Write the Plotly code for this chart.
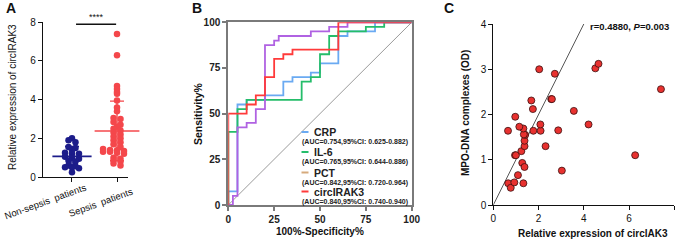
import numpy as np
import plotly.graph_objects as go

# ---------------- Panel A data ----------------
groups = ["Non-sepsis  patients", "Sepsis  patients"]
non_sepsis = [2.0, 1.9, 1.8, 1.55, 1.5, 1.4, 1.25, 1.2, 1.2, 1.05, 1.0, 0.95,
              0.85, 0.8, 0.6, 0.55, 0.5, 0.5, 0.45, 0.25]
sepsis = [7.4, 6.3, 4.7, 4.55, 4.4, 4.3, 3.95, 3.6, 3.4, 3.05, 3.0, 2.85, 2.7,
          2.6, 2.5, 2.4, 2.3, 2.2, 2.1, 2.0, 1.9, 1.8, 1.7, 1.55, 1.45, 1.4,
          1.38, 1.35, 1.35, 1.3, 1.3, 1.25, 1.2, 1.1, 1.0, 0.95, 0.85, 0.8,
          0.7, 0.6]
a_yticks = [0, 2, 4, 6, 8]

# ---------------- Panel B data (ROC) ----------------
crp_fpr = [0, 0, 5, 10, 20, 30, 35, 45, 50, 60, 65, 80, 100]
crp_tpr = [0, 7.5, 55, 57.5, 60, 67.5, 70, 72.5, 77.5, 92.5, 95, 100, 100]
il6_fpr = [0, 0, 5, 10, 40, 45, 50, 55, 60, 75, 85, 100]
il6_tpr = [0, 40, 52.5, 57.5, 67.5, 70, 82.5, 92.5, 95, 97.5, 100, 100]
pct_fpr = [0, 2.5, 5, 10, 15, 20, 25, 27.5, 45, 55, 65, 100]
pct_tpr = [0, 5, 42.5, 45, 52.5, 87.5, 90, 92.5, 95, 97.5, 100, 100]
irak_fpr = [0, 0, 10, 15, 20, 25, 30, 35, 60, 100]
irak_tpr = [0, 50, 55, 60, 70, 80, 82.5, 85, 100, 100]
roc_names = ["CRP", "IL-6", "PCT", "circIRAK3"]
roc_auc = ["(AUC=0.754,95%CI: 0.625-0.882)", "(AUC=0.765,95%CI: 0.644-0.886)",
           "(AUC=0.842,95%CI: 0.720-0.964)", "(AUC=0.840,95%CI: 0.740-0.940)"]
b_ticks = [0, 25, 50, 75, 100]

# ---------------- Panel C data ----------------
c_x = [0.66, 0.77, 0.93, 1.33, 1.09, 1.28, 1.38, 0.96, 1.0, 1.24, 1.38, 1.38,
       1.41, 1.35, 1.33, 1.15, 0.65, 0.97, 1.77, 2.09, 2.08, 2.31, 2.87, 3.03,
       1.75, 1.68, 2.56, 2.59, 2.03, 2.72, 3.56, 4.21, 4.51, 4.65, 6.27, 7.41]
c_y = [0.48, 0.38, 0.50, 0.48, 0.66, 0.93, 0.84, 1.10, 1.10, 1.19, 1.30, 1.42,
       1.55, 1.56, 1.69, 1.73, 1.64, 1.95, 1.64, 1.64, 1.78, 1.30, 1.65, 0.76,
       2.12, 2.31, 2.34, 2.34, 3.00, 2.90, 2.08, 1.78, 3.02, 3.12, 1.10, 2.56]
fit_x = [0, 4]
fit_y = [0, 4]
c_xticks = [0, 2, 4, 6, 8]
c_yticks = [0, 1, 2, 3, 4]

FONT = "Arial, Liberation Sans, sans-serif"
NAVY = "#1c1c8a"
RED_A = "#f4474b"
RED_C = "#e8312f"
C_CRP = "#6aaaf2"
C_IL6 = "#25bd6a"
C_PCT_LEG = "#d6aa7c"
C_PCT = "#b062e2"
C_IRAK = "#ff3a3a"

W, H = 677, 241


def px_x(p):
    return p / W


def px_y(p):
    return 1 - p / H


def swarm(vals, binw=0.2, step=0.155):
    vals = np.asarray(vals, dtype=float)
    offs = np.zeros(len(vals))
    bins = np.round(vals / binw).astype(int)
    for b in np.unique(bins):
        idx = np.where(bins == b)[0]
        n = len(idx)
        offs[idx] = (np.arange(n) - (n - 1) / 2) * step
    return offs


fig = go.Figure()

# ---------------- Panel A ----------------
for gi, (vals, col) in enumerate([(non_sepsis, NAVY), (sepsis, RED_A)]):
    offs = swarm(vals)
    fig.add_trace(go.Scatter(x=gi + offs, y=vals, mode="markers",
                             marker=dict(color=col, size=6.5),
                             xaxis="x", yaxis="y", showlegend=False, cliponaxis=False))
    m = float(np.mean(vals))
    sd = float(np.std(vals, ddof=1))
    fig.add_trace(go.Scatter(x=[gi], y=[m], mode="markers",
                             marker=dict(symbol="line-ew", size=28 if gi == 0 else 32,
                                         line=dict(color=col, width=1.6)),
                             error_y=dict(type="data", array=[sd], arrayminus=[sd],
                                          color=col, thickness=1.4, width=7),
                             xaxis="x", yaxis="y", showlegend=False, cliponaxis=False))

# ---------------- Panel B ----------------
fig.add_trace(go.Scatter(x=[0, 100], y=[0, 100], mode="lines",
                         line=dict(color="#9a9a9a", width=1), xaxis="x2", yaxis="y2",
                         showlegend=False))
for fx, ty, col in [(crp_fpr, crp_tpr, C_CRP), (il6_fpr, il6_tpr, C_IL6),
                    (pct_fpr, pct_tpr, C_PCT), (irak_fpr, irak_tpr, C_IRAK)]:
    fig.add_trace(go.Scatter(x=fx, y=ty, mode="lines", line=dict(color=col, width=1.8, shape="hv"),
                             xaxis="x2", yaxis="y2", showlegend=False, cliponaxis=False))

# ---------------- Panel C ----------------
fig.add_trace(go.Scatter(x=fit_x, y=fit_y, mode="lines", line=dict(color="#555555", width=1),
                         xaxis="x3", yaxis="y3", showlegend=False, cliponaxis=False))
fig.add_trace(go.Scatter(x=c_x, y=c_y, mode="markers",
                         marker=dict(color=RED_C, size=7, line=dict(color="#3a1010", width=0.8)),
                         xaxis="x3", yaxis="y3", showlegend=False, cliponaxis=False))

tickfont = dict(family=FONT, size=10, color="#111")
boldtick = dict(family=FONT, size=10, color="#222", weight="bold")

common = dict(showgrid=False, zeroline=False, automargin=False, ticks="outside")

layout = dict(
    width=W, height=H, margin=dict(l=0, r=0, t=0, b=0, autoexpand=False),
    paper_bgcolor="white", plot_bgcolor="white",
    font=dict(family=FONT, color="#111"),
    # Panel A
    xaxis=dict(domain=[px_x(43), px_x(128)], range=[-0.644, 1.244],
               tickvals=[0, 1], showticklabels=False,
               showline=True, linecolor="#111", linewidth=1.2,
               ticklen=4, tickcolor="#111", anchor="y", **common),
    yaxis=dict(domain=[px_y(177), px_y(22.3)], range=[0, 8], tickvals=a_yticks,
               showline=True, linecolor="#111", linewidth=1.2,
               ticklen=4, tickcolor="#111", tickfont=tickfont, anchor="x", **common),
    # Panel B
    xaxis2=dict(domain=[px_x(228.3), px_x(411.7)], range=[0, 100], tickvals=b_ticks,
                showline=True, mirror=True, linecolor="#7a7a7a", linewidth=2,
                ticklen=4, tickcolor="#7a7a7a", tickwidth=1.5,
                tickfont=boldtick, anchor="y2", **common),
    yaxis2=dict(domain=[px_y(205), px_y(22.3)], range=[0, 100], tickvals=b_ticks,
                showline=True, mirror=True, linecolor="#7a7a7a", linewidth=2,
                ticklen=4, tickcolor="#7a7a7a", tickwidth=1.5,
                tickfont=boldtick, anchor="x2", **common),
    # Panel C
    xaxis3=dict(domain=[px_x(493.3), px_x(674.3)], range=[0, 8], tickvals=c_xticks,
                showline=True, linecolor="#111", linewidth=1.2,
                ticklen=4, tickcolor="#111", tickfont=tickfont, anchor="y3", **common),
    yaxis3=dict(domain=[px_y(205), px_y(24)], range=[0, 4], tickvals=c_yticks,
                showline=True, linecolor="#111", linewidth=1.2,
                ticklen=4, tickcolor="#111", tickfont=tickfont, anchor="x3", **common),
)
fig.update_layout(**layout)

ann = []
shapes = []


def text(x, y, s, size, bold=False, xanchor="center", yanchor="middle", angle=0, color="#111"):
    ann.append(dict(x=x, y=y, xref="paper", yref="paper", text=s, showarrow=False,
                    xanchor=xanchor, yanchor=yanchor, textangle=angle,
                    font=dict(family=FONT, size=size, color=color,
                              weight="bold" if bold else "normal")))


# Panel labels
text(px_x(4), px_y(8), "A", 14, bold=True, xanchor="left")
text(px_x(190), px_y(8), "B", 14, bold=True, xanchor="left")
text(px_x(442), px_y(8), "C", 14, bold=True, xanchor="left")

# Panel A category labels (rotated) and titles
text(px_x(45), px_y(201), groups[0], 9.5, angle=-20)
text(px_x(100), px_y(202), groups[1], 9.5, angle=-20)
text(px_x(12), px_y(97), "Relative expression of circIRAK3", 10, angle=-90)
text(px_x(96), px_y(17.5), "****", 9)
shapes.append(dict(type="line", xref="x", yref="y", x0=0.09, x1=0.98, y0=7.9, y1=7.9,
                   line=dict(color="#111", width=1.4)))

# Panel B titles
text(px_x(198), px_y(113), "Sensitivity%", 10.5, bold=True, angle=-90)
text(px_x(320), px_y(231), "100%-Specificity%", 10, bold=True)

# Panel B legend (drawn manually)
leg_cols = [C_CRP, C_IL6, C_PCT_LEG, C_IRAK]
name_y = [132, 152, 172.5, 191.5]
for nm, auc, col, yy in zip(roc_names, roc_auc, leg_cols, name_y):
    shapes.append(dict(type="line", xref="paper", yref="paper",
                       x0=px_x(301.5), x1=px_x(308.5), y0=px_y(yy), y1=px_y(yy),
                       line=dict(color=col, width=2)))
    text(px_x(312), px_y(yy), nm, 10.5, bold=True, xanchor="left", color="#222")
    text(px_x(299.5), px_y(yy + 10), auc, 7, bold=True, xanchor="left", color="#222")

# Panel C titles & stats
text(px_x(465), px_y(113), "MPO-DNA complexes (OD)", 10, bold=True, angle=-90)
text(px_x(593), px_y(233), "Relative expression of circlAK3", 10, bold=True)
text(px_x(671), px_y(26), "r=0.4880, <i>P</i>=0.003", 9.5, bold=True, xanchor="right")

fig.update_layout(annotations=ann, shapes=shapes)
fig.write_html("out.html", config={"displayModeBar": False},
               post_script="document.body.style.margin='0';document.body.style.overflow='hidden';")
